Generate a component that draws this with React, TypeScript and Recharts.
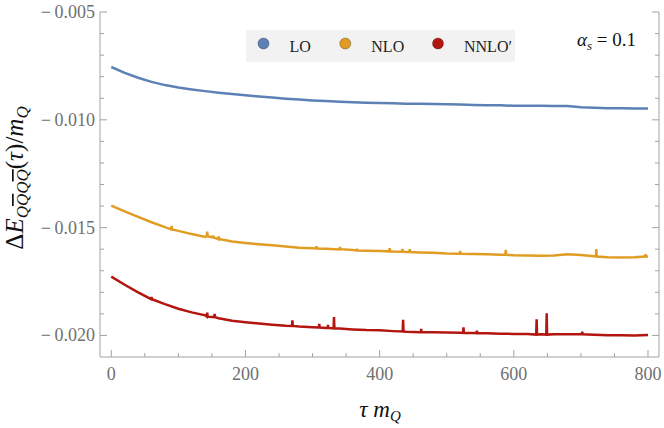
import React from "react";
import { Line, LineChart, XAxis, YAxis } from "recharts";

const C = {
  lo: "#5e81b5",
  nlo: "#e19c24",
  nnlo: "#b3150f",
  frame: "#a3a3a3",
  tickText: "#707070",
  legendBg: "#f2f2f2",
};

const SERIF = '"Liberation Serif", "Times New Roman", "DejaVu Serif", "Noto Serif", serif';

// tau m_Q grid of the smooth part of each curve
const TAU = [
  0, 20, 40, 60, 80, 100, 120, 140, 160, 180, 200, 220, 240, 260, 280, 300, 320, 340, 360, 380, 400,
  420, 440, 460, 480, 500, 520, 540, 560, 580, 600, 620, 640, 660, 680, 700, 720, 740, 760, 780, 800,
];

const LO = [
  -0.00755, -0.00782, -0.00805, -0.00824, -0.00839, -0.0085, -0.00859, -0.00867, -0.00874, -0.0088,
  -0.00886, -0.00892, -0.00897, -0.00902, -0.00906, -0.0091, -0.00913, -0.00916, -0.00919, -0.00921,
  -0.00922, -0.00923, -0.00926, -0.00926, -0.00927, -0.00928, -0.00929, -0.00931, -0.00932, -0.00933,
  -0.00935, -0.00935, -0.00935, -0.00936, -0.00936, -0.00942, -0.00944, -0.00946, -0.00946, -0.00947,
  -0.00947,
];

const NLO = [
  -0.01398, -0.01425, -0.0145, -0.01475, -0.01498, -0.01515, -0.0153, -0.01543, -0.01554, -0.01564,
  -0.01571, -0.01577, -0.01582, -0.01588, -0.01593, -0.01596, -0.01598, -0.01601, -0.01604, -0.01607,
  -0.01608, -0.01611, -0.01613, -0.01615, -0.01617, -0.0162, -0.01621, -0.01622, -0.01624, -0.01626,
  -0.01628, -0.01629, -0.0163, -0.01629, -0.01624, -0.01627, -0.01633, -0.01637, -0.01639, -0.01637,
  -0.01634,
];

const NNLO = [
  -0.01727, -0.01765, -0.018, -0.0183, -0.01855, -0.01876, -0.01893, -0.01907, -0.0192, -0.01932,
  -0.01939, -0.01945, -0.0195, -0.01955, -0.01959, -0.01962, -0.01965, -0.01968, -0.01972, -0.01975,
  -0.01976, -0.0198, -0.01983, -0.01985, -0.01985, -0.01986, -0.01987, -0.01989, -0.0199, -0.01992,
  -0.01993, -0.01993, -0.01994, -0.01994, -0.01994, -0.01995, -0.01997, -0.01999, -0.01999, -0.02,
  -0.01998,
];

// outliers: [tau, spike top, curve level there]
const NLO_SPIKES = [
  [90, -0.01492, -0.01508],
  [143, -0.01518, -0.0154],
  [152, -0.01537, -0.01546],
  [160, -0.0154, -0.01553],
  [306, -0.01586, -0.01597],
  [341, -0.0159, -0.016],
  [366, -0.01598, -0.01606],
  [415, -0.01595, -0.0161],
  [434, -0.01599, -0.01612],
  [445, -0.016, -0.01613],
  [520, -0.01608, -0.01621],
  [588, -0.01603, -0.01626],
  [723, -0.016, -0.01634],
  [796, -0.01623, -0.01634],
];

const NNLO_SPIKES = [
  [60, -0.01821, -0.01832],
  [143, -0.01894, -0.01913],
  [154, -0.019, -0.01915],
  [270, -0.0193, -0.01956],
  [310, -0.01947, -0.01963],
  [323, -0.01951, -0.01965],
  [332, -0.01915, -0.01967],
  [435, -0.01928, -0.01982],
  [462, -0.0197, -0.01985],
  [525, -0.01962, -0.01988],
  [545, -0.01978, -0.0199],
  [634, -0.01925, -0.01996],
  [649, -0.01897, -0.01996],
  [702, -0.01982, -0.01995],
];

const X_TICKS = [0, 50, 100, 150, 200, 250, 300, 350, 400, 450, 500, 550, 600, 650, 700, 750, 800];
const X_LABELS = [0, 200, 400, 600, 800];
const Y_TICKS = [
  -0.02, -0.019, -0.018, -0.017, -0.016, -0.015, -0.014, -0.013, -0.012, -0.011, -0.01, -0.009,
  -0.008, -0.007, -0.006, -0.005,
];
const Y_LABELS = [-0.02, -0.015, -0.01, -0.005];

const X_DOMAIN: [number, number] = [-16.8, 816.4];
const Y_DOMAIN: [number, number] = [-0.021, -0.005];

function build(vals: number[], spikes: number[][]) {
  const pts = TAU.map((t, i) => ({ t, v: vals[i] }));
  spikes.forEach(([t, top, base]) => {
    pts.push({ t: t - 0.6, v: base }, { t, v: top }, { t: t + 0.6, v: base });
  });
  return pts.sort((a, b) => a.t - b.t);
}

const SERIES = [
  { name: "LO", color: C.lo, data: build(LO, []) },
  { name: "NLO", color: C.nlo, data: build(NLO, NLO_SPIKES) },
  { name: "NNLO\u2032", color: C.nnlo, data: build(NNLO, NNLO_SPIKES) },
];

const isMajorY = (v: number) => Y_LABELS.some((l) => Math.abs(l - v) < 1e-9);
const fmtY = (v: number) => "\u2212\u2009" + Math.abs(v).toFixed(3);
const serif = { fontFamily: SERIF };

function BottomTick(p: any) {
  const major = X_LABELS.includes(p.payload.value);
  return (
    <g>
      <line x1={p.x} x2={p.x} y1={p.y} y2={p.y - (major ? 7 : 4)} stroke={C.frame} />
      {major && (
        <text x={p.x} y={p.y + 23} textAnchor="middle" fontSize={18} fill={C.tickText} style={serif}>
          {p.payload.value}
        </text>
      )}
    </g>
  );
}

function TopTick(p: any) {
  const major = X_LABELS.includes(p.payload.value);
  return <line x1={p.x} x2={p.x} y1={p.y} y2={p.y + (major ? 7 : 4)} stroke={C.frame} />;
}

function LeftTick(p: any) {
  const major = isMajorY(p.payload.value);
  return (
    <g>
      <line x1={p.x} x2={p.x + (major ? 7 : 4)} y1={p.y} y2={p.y} stroke={C.frame} />
      {major && (
        <text x={p.x - 5} y={p.y + 6} textAnchor="end" fontSize={18} fill={C.tickText} style={serif}>
          {fmtY(p.payload.value)}
        </text>
      )}
    </g>
  );
}

function RightTick(p: any) {
  const major = isMajorY(p.payload.value);
  return <line x1={p.x} x2={p.x - (major ? 7 : 4)} y1={p.y} y2={p.y} stroke={C.frame} />;
}

function Overlay() {
  const legendX = [263.5, 345.3, 438];
  return (
    <svg
      width={664}
      height={428}
      style={{ position: "absolute", left: 0, top: 0, pointerEvents: "none", fontFamily: SERIF }}
    >
      <rect x={246} y={30} width={269} height={32} fill={C.legendBg} />
      {SERIES.map((s, i) => (
        <g key={s.name}>
          <circle cx={legendX[i]} cy={43.5} r={5.5} fill={s.color} stroke="rgba(0,0,0,0.35)" strokeWidth={0.8} />
          <text x={legendX[i] + 26} y={51.5} fontSize={16} fill="#222">
            {s.name}
          </text>
        </g>
      ))}
      <text x={577} y={46} fontSize={19} fill="#111">
        <tspan fontStyle="italic">α</tspan>
        <tspan fontStyle="italic" fontSize={13} dy={4}>
          s
        </tspan>
        <tspan dy={-4}> = 0.1</tspan>
      </text>
      <text x={380} y={417} textAnchor="middle" fontSize={23} fill="#111">
        <tspan fontStyle="italic">τ m</tspan>
        <tspan fontStyle="italic" fontSize={15} dy={4}>
          Q
        </tspan>
      </text>
      <text transform="translate(23, 178) rotate(-90)" textAnchor="middle" fontSize={25} fill="#111">
        <tspan>Δ</tspan>
        <tspan fontStyle="italic">E</tspan>
        <tspan fontStyle="italic" fontSize={17} dy={5}>
          Q
        </tspan>
        <tspan fontStyle="italic" fontSize={17} style={{ textDecoration: "overline" }}>
          Q
        </tspan>
        <tspan fontStyle="italic" fontSize={17}>
          Q
        </tspan>
        <tspan fontStyle="italic" fontSize={17} style={{ textDecoration: "overline" }}>
          Q
        </tspan>
        <tspan dy={-5}>(</tspan>
        <tspan fontStyle="italic">τ</tspan>
        <tspan>)/</tspan>
        <tspan fontStyle="italic">m</tspan>
        <tspan fontStyle="italic" fontSize={17} dy={5}>
          Q
        </tspan>
      </text>
    </svg>
  );
}

export default function App() {
  return (
    <div style={{ position: "absolute", left: 0, top: 0, width: 664, height: 428, background: "#fff" }}>
      <LineChart width={664} height={428} margin={{ top: 12, right: 0, bottom: 0, left: 0 }}>
        <XAxis
          xAxisId="b"
          dataKey="t"
          type="number"
          domain={X_DOMAIN}
          ticks={X_TICKS}
          interval={0}
          allowDataOverflow
          height={71}
          stroke={C.frame}
          tickSize={0}
          tickMargin={0}
          tickLine={false}
          tick={(p: any) => <BottomTick {...p} />}
        />
        <XAxis
          xAxisId="t"
          orientation="top"
          dataKey="t"
          type="number"
          domain={X_DOMAIN}
          ticks={X_TICKS}
          interval={0}
          allowDataOverflow
          height={0}
          stroke={C.frame}
          tickSize={0}
          tickMargin={0}
          tickLine={false}
          tick={(p: any) => <TopTick {...p} />}
        />
        <YAxis
          yAxisId="l"
          type="number"
          domain={Y_DOMAIN}
          ticks={Y_TICKS}
          interval={0}
          allowDataOverflow
          width={100}
          stroke={C.frame}
          tickSize={0}
          tickMargin={0}
          tickLine={false}
          tick={(p: any) => <LeftTick {...p} />}
        />
        <YAxis
          yAxisId="r"
          orientation="right"
          type="number"
          domain={Y_DOMAIN}
          ticks={Y_TICKS}
          interval={0}
          allowDataOverflow
          width={5}
          stroke={C.frame}
          tickSize={0}
          tickMargin={0}
          tickLine={false}
          tick={(p: any) => <RightTick {...p} />}
        />
        {SERIES.map((s) => (
          <Line
            key={s.name}
            xAxisId="b"
            yAxisId="l"
            data={s.data}
            dataKey="v"
            type="linear"
            stroke={s.color}
            strokeWidth={2.5}
            dot={false}
            isAnimationActive={false}
          />
        ))}
      </LineChart>
      <Overlay />
    </div>
  );
}
